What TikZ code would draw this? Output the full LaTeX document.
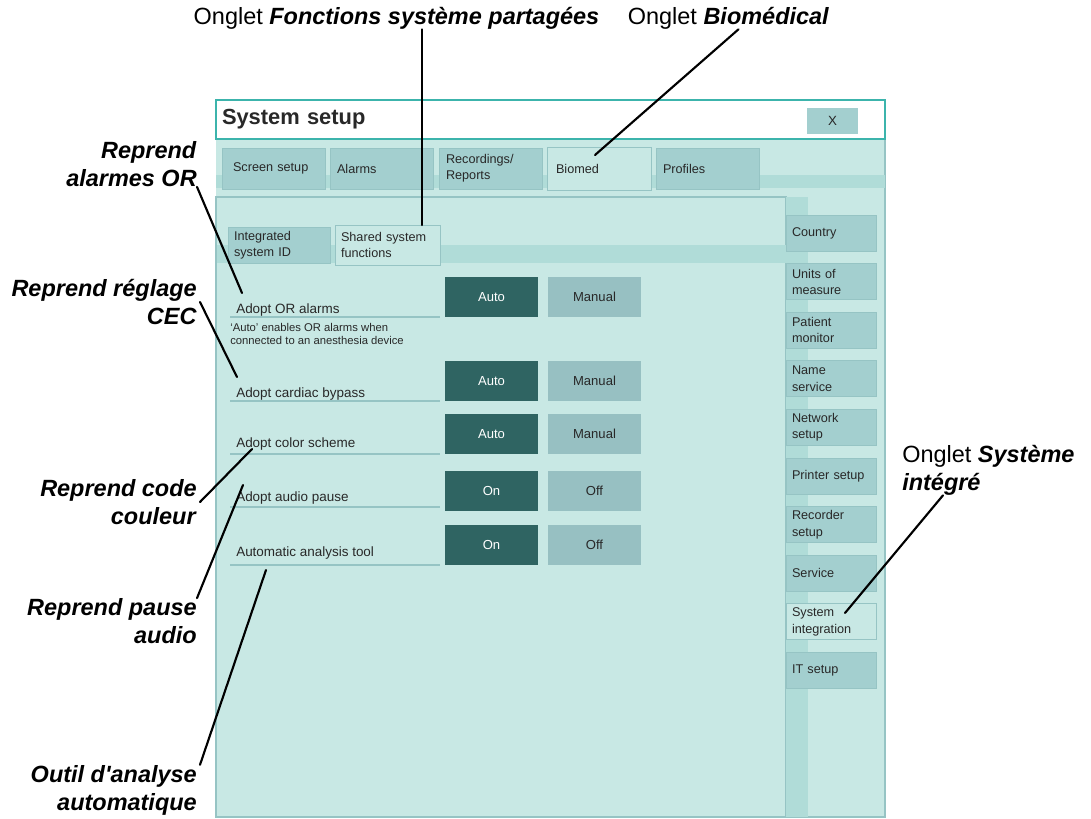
\documentclass[tikz,border=0pt]{standalone}
\usepackage{fontspec}
\setmainfont{Liberation Sans}[Ligatures=TeXOff]
\usepackage{tikz}
\usetikzlibrary{positioning, calc}
\definecolor{PanelBg}{RGB}{200,232,228}
\definecolor{BandBg}{RGB}{176,220,216}
\definecolor{TabFill}{RGB}{163,207,207}
\definecolor{TabLine}{RGB}{150,196,196}
\definecolor{BtnDark}{RGB}{47,100,98}
\definecolor{BtnLight}{RGB}{151,192,194}
\definecolor{TitleLine}{RGB}{60,180,172}
\definecolor{ScreenText}{RGB}{40,40,40}
\newdimen\pxu \pxu=0.75pt
\newcommand{\bi}[1]{\textbf{\textit{#1}}}

\begin{document}
\begin{tikzpicture}[x=0.75pt, y=-0.75pt,
	tab/.style={draw=TabLine, fill=TabFill, line width=0.6pt, inner xsep=7\pxu, inner ysep=0pt,
		align=left, text width=89\pxu, minimum height=41\pxu, text=ScreenText,
		font=\fontsize{9.5}{12.2}\selectfont},
	acttab/.style={tab, fill=PanelBg},
	subtab/.style={tab, inner xsep=6\pxu, text width=90\pxu, minimum height=36\pxu},
	rtab/.style={tab, inner xsep=6\pxu, text width=78\pxu, minimum height=36\pxu},
	btn/.style={minimum width=93\pxu, minimum height=40\pxu, inner sep=0pt,
		font=\fontsize{9.8}{12}\selectfont},
	onbtn/.style={btn, fill=BtnDark, text=white},
	offbtn/.style={btn, fill=BtnLight, text=ScreenText},
	rowlab/.style={anchor=base west, inner sep=0pt, text=ScreenText, font=\fontsize{10.1}{12}\selectfont},
	uline/.style={draw=TabLine, line width=0.8pt},
	annot/.style={inner sep=0pt, font=\fontsize{17.6}{21}\selectfont},
	callout/.style={line width=1.6pt, line cap=round}]
\useasboundingbox (0,0) rectangle (1091,818);
% window background
\fill[PanelBg] (216,139) rectangle (885,817);
\draw[TabLine, line width=0.8pt] (885,100) -- (885,817) -- (216,817);
\fill[BandBg] (216,175) rectangle (885,188);
% title bar
\node[draw=TitleLine, fill=white, line width=0.8pt, inner xsep=6\pxu, inner ysep=0pt,
	minimum height=39\pxu, text width=657\pxu, align=left, text=ScreenText,
	font=\fontsize{16.4}{18}\selectfont\bfseries] (title) at (550.5,119.5) {System setup};
\node[fill=TabFill, minimum width=51\pxu, minimum height=26\pxu, inner sep=0pt,
	font=\fontsize{10}{12}\selectfont, text=ScreenText] (close) at (832.5,121) {X};
% top tabs
\node[tab, inner xsep=11\pxu, text width=81\pxu] (tScreen) at (273.5,168.5) {Screen~setup};
\node[tab] (tAlarms) at (381.5,168.5) {Alarms};
\node[tab] (tRec) at (490.5,168.5) {Recordings/\\Reports};
\node[acttab, inner xsep=9\pxu, text width=86\pxu, minimum height=43\pxu] (tBio) at (599,168.5) {Biomed};
\node[tab] (tProf) at (707.5,168.5) {Profiles};
% main panel
\draw[TabLine, fill=PanelBg, line width=0.8pt] (216,197) rectangle (786,817);
\fill[BandBg] (786,197) rectangle (808,817);
\fill[BandBg] (217,245) rectangle (808,263);
% sub tabs
\node[subtab] (sInt) at (279,245) {Integrated\\system~ID};
\node[subtab, fill=PanelBg, text width=93\pxu, minimum height=40\pxu] (sShared) at (387.5,245) {Shared system\\functions};
% right tabs
\foreach \i/\txt in {1/Country, 2/Units of\\measure, 3/Patient\\monitor, 4/Name\\service,
	5/Network\\setup, 6/Printer~setup, 7/Recorder\\setup, 8/Service, 10/IT~setup}
	\node[rtab] (R\i) at (831,{233+48.6*(\i-1)}) {\txt};
\node[rtab, fill=PanelBg] (R9) at (831,{233+48.6*8}) {System\\integration};
% setting rows
\foreach \k/\lab/\on/\off/\yl/\yu/\yc in {1/Adopt OR alarms/Auto/Manual/313/317/297,
	2/Adopt cardiac bypass/Auto/Manual/397/401/381,
	3/Adopt color scheme/Auto/Manual/447/454/434,
	4/Adopt audio pause/On/Off/501/507/490.5,
	5/Automatic analysis tool/On/Off/556/565/545}{
	\node[rowlab] (L\k) at (236,\yl) {\lab};
	\draw[uline] (230,\yu) -- (440,\yu);
	\node[onbtn] (On\k) at (491.5,\yc) {\on};
	\node[offbtn] (Off\k) at (594.5,\yc) {\off};
}
\node[anchor=north west, inner sep=0pt, align=left, text=ScreenText,
	font=\fontsize{8.45}{9.75}\selectfont] (hint) at (230,323)
	{‘Auto’ enables OR alarms when\\connected to an anesthesia device};
% annotations
\node[annot] (lblFct) at (396.5,18) {Onglet \bi{Fonctions système partagées}};
\node[annot] (lblBio) at (728.5,18) {Onglet \bi{Biomédical}};
\node[annot, anchor=west, align=left] (lblSys) at (902,470) {Onglet \bi{Système}\\\bi{intégré}};
\node[annot, anchor=east, align=right] (lblOR) at (197,164) {\bi{Reprend}\\\bi{alarmes OR}};
\node[annot, anchor=east, align=right] (lblCEC) at (197,302) {\bi{Reprend réglage}\\\bi{CEC}};
\node[annot, anchor=east, align=right] (lblCol) at (197,502) {\bi{Reprend code}\\\bi{couleur}};
\node[annot, anchor=east, align=right] (lblAud) at (197,621) {\bi{Reprend pause}\\\bi{audio}};
\node[annot, anchor=east, align=right] (lblAna) at (197,790) {\bi{Outil d'analyse}\\\bi{automatique}};
\coordinate (pFct) at (422,225);
\coordinate (pBio) at (595,155);
\coordinate (pSys) at (845,613);
\coordinate (pOR) at (242,293);
\coordinate (pCEC) at (237,377);
\coordinate (pCol) at (252,449);
\coordinate (pAud) at (243,485);
\coordinate (pAna) at (266,570);
\draw[callout] (lblFct.south -| pFct) -- (pFct);
\draw[callout] ([xshift=10\pxu]lblBio.south) -- (pBio);
\draw[callout] ($(lblSys.south west)+(41,0)$) -- (pSys);
\draw[callout] (lblOR.south east) -- (pOR);
\draw[callout] ([xshift=3\pxu]lblCEC.east) -- (pCEC);
\draw[callout] ([xshift=3\pxu]lblCol.east) -- (pCol);
\draw[callout] (lblAud.north east) -- (pAud);
\draw[callout] ([xshift=3\pxu]lblAna.north east) -- (pAna);
\end{tikzpicture}
\end{document}
